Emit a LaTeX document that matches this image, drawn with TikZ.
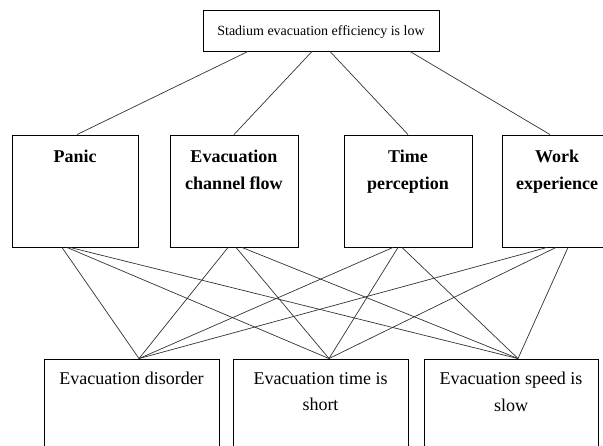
\documentclass[tikz,border=0pt]{standalone}
\usepackage{fontspec}
\setmainfont{Liberation Serif}
\usetikzlibrary{calc}
\begin{document}
\begin{tikzpicture}[x=1pt,y=-1pt,
  boxsty/.style={draw=black,line width=0.9pt,rectangle,inner sep=0pt},
  midbox/.style={boxsty,minimum height=112pt},
  botbox/.style={boxsty,minimum height=110pt},
  toptext/.style={inner sep=0pt,font=\fontsize{14}{16}\selectfont},
  midtext/.style={inner sep=0pt,anchor=north,align=center,font=\bfseries\fontsize{18}{27}\selectfont},
  bottext/.style={inner sep=0pt,anchor=north,align=center,font=\fontsize{18}{26.5}\selectfont},
  conn/.style={draw=black!80,line width=0.7pt}]
\fill[white] (0,0) rectangle (603,445);
\useasboundingbox (0,0) rectangle (603,445);

% top
\node[boxsty,minimum width=236pt,minimum height=41pt] (top) at (321,30.5) {};
\node[toptext,anchor=base] (topT) at (321,35.3) {Stadium evacuation efficiency is low};

% middle
\node[midbox,minimum width=126pt] (panic) at (75,191) {};
\node[midbox,minimum width=128pt] (evac) at (234,191) {};
\node[midbox,minimum width=128pt] (time) at (408,191) {};
\node[midbox,minimum width=110pt] (work) at (557,191) {};
\node[midtext] (panicT) at ([yshift=-15pt]panic.north) {Panic};
\node[midtext] (evacT) at ([yshift=-15pt]evac.north) {Evacuation\\channel flow};
\node[midtext] (timeT) at ([yshift=-15pt]time.north) {Time\\perception};
\node[midtext] (workT) at ([yshift=-15pt]work.north) {Work\\experience};

% bottom
\node[botbox,minimum width=175pt] (dis) at (131.5,414) {};
\node[botbox,minimum width=175pt] (short) at (320.5,414) {};
\node[botbox,minimum width=174pt] (slow) at (511,414) {};
\node[bottext] (disT) at ([yshift=-13.7pt]dis.north) {Evacuation disorder};
\node[bottext] (shortT) at ([yshift=-13.7pt]short.north) {Evacuation time is\\short};
\node[bottext] (slowT) at ([yshift=-13.7pt]slow.north) {Evacuation speed is\\slow};

% top connectors
\draw[conn] ([xshift=-73pt]top.south) -- ([xshift=2pt]panic.north);
\draw[conn] ([xshift=-9pt]top.south) -- (evac.north);
\draw[conn] ([xshift=9pt]top.south) -- (time.north);
\draw[conn] ([xshift=89pt]top.south) -- ([xshift=-7pt]work.north);

% bottom connectors
\coordinate (dA) at ([xshift=7.5pt]dis.north);
\coordinate (sA) at ([xshift=8.5pt]short.north);
\coordinate (wA) at ([xshift=7pt]slow.north);

\draw[conn] ([xshift=-13pt]panic.south) -- (dA);
\draw[conn] ([xshift=-8pt]panic.south) -- (sA);
\draw[conn] ([xshift=-5pt]panic.south) -- (wA);

\draw[conn] ([xshift=-6pt]evac.south) -- (dA);
\draw[conn] ([xshift=2pt]evac.south) -- (sA);
\draw[conn] ([xshift=8pt]evac.south) -- (wA);

\draw[conn] ([xshift=-15pt]time.south) -- (dA);
\draw[conn] ([xshift=-10pt]time.south) -- (sA);
\draw[conn] ([xshift=-6pt]time.south) -- (wA);

\draw[conn] ([xshift=-10pt]work.south) -- (dA);
\draw[conn] ([xshift=-1pt]work.south) -- (sA);
\draw[conn] ([xshift=11pt]work.south) -- (wA);
\end{tikzpicture}
\end{document}
